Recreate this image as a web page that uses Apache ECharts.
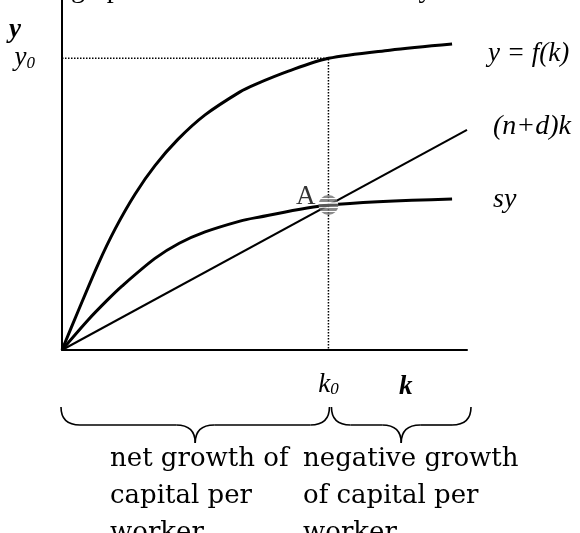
<!DOCTYPE html>
<html>
<head>
<meta charset="utf-8">
<script src="https://cdn.jsdelivr.net/npm/echarts@6/dist/echarts.min.js"></script>
<style>
  html, body { margin: 0; padding: 0; background: #fff; }
  #main { width: 580px; height: 533px; }
</style>
</head>
<body>
<div id="main"></div>
<script>
// output per worker, y = f(k)
var outK = [0, 0.6, 1.35, 2.0, 2.74, 3.49, 4.35, 5.37, 6.68, 7.24, 8.5, 10, 12.3, 14.64];
var outY = [0, 1.32, 2.93, 4.16, 5.34, 6.32, 7.22, 8.06, 8.85, 9.1, 9.56, 10, 10.28, 10.49];
// saving per worker, sy
var saveK = [0, 0.98, 1.69, 2.25, 3.49, 4.4, 5.37, 6.68, 7.24, 10, 14.64];
var saveY = [0, 1.03, 1.7, 2.19, 3.14, 3.66, 4.05, 4.42, 4.53, 4.97, 5.18];
// break-even investment, (n+d)k
var lineK = [0, 15.2];
var lineY = [0, 7.55];
// steady state
var k0 = 10;
var y0 = 10;
var sy0 = 4.97;
var kMax = 15.2;
var yMax = 12;

var serif = '"Liberation Serif", "Times New Roman", serif';
var book = '"DejaVu Serif", "Palatino Linotype", serif';

function zip(a, b) {
  return a.map(function (v, i) { return [v, b[i]]; });
}

// stripes for the point A
var stops = [];
var pos = 0;
for (var i = 0; i < 5; i++) {
  stops.push({ offset: pos, color: '#6e6e6e' });
  pos += 0.15;
  stops.push({ offset: pos, color: '#6e6e6e' });
  if (i < 4) {
    stops.push({ offset: pos, color: '#ffffff' });
    pos += 0.0625;
    stops.push({ offset: pos, color: '#ffffff' });
  }
}

var myChart = echarts.init(document.getElementById('main'));

myChart.setOption({
  animation: false,
  grid: { left: 62, right: 113, top: 0, bottom: 183 },
  xAxis: {
    type: 'value', min: 0, max: kMax,
    splitLine: { show: false },
    axisTick: { show: false },
    axisLine: { lineStyle: { color: '#000', width: 2 } },
    axisLabel: {
      customValues: [k0],
      margin: 21,
      formatter: function () { return '{a|k}{b|0}'; },
      rich: {
        a: { fontFamily: serif, fontStyle: 'italic', fontSize: 27, color: '#000', verticalAlign: 'bottom' },
        b: { fontFamily: serif, fontStyle: 'italic', fontSize: 17, color: '#000', verticalAlign: 'bottom' }
      }
    }
  },
  yAxis: {
    type: 'value', min: 0, max: yMax,
    splitLine: { show: false },
    axisTick: { show: false },
    axisLine: { lineStyle: { color: '#000', width: 2 } },
    axisLabel: {
      customValues: [y0],
      margin: 27,
      formatter: function () { return '{a|y}{b|0}'; },
      rich: {
        a: { fontFamily: serif, fontStyle: 'italic', fontSize: 27, color: '#000', verticalAlign: 'bottom' },
        b: { fontFamily: serif, fontStyle: 'italic', fontSize: 17, color: '#000', verticalAlign: 'bottom' }
      }
    }
  },
  series: [
    {
      name: 'f', type: 'line', data: zip(outK, outY),
      smooth: 0.3, showSymbol: false, silent: true,
      lineStyle: { color: '#000', width: 3 },
      endLabel: {
        show: true, formatter: 'y = f(k)', distance: 0, offset: [36, 10],
        fontFamily: serif, fontStyle: 'italic', fontSize: 27, color: '#000'
      },
      z: 3
    },
    {
      name: 'sy', type: 'line', data: zip(saveK, saveY),
      smooth: 0.3, showSymbol: false, silent: true,
      lineStyle: { color: '#000', width: 3 },
      endLabel: {
        show: true, formatter: 'sy', distance: 0, offset: [41, 1],
        fontFamily: serif, fontStyle: 'italic', fontSize: 28, color: '#000'
      },
      z: 3
    },
    {
      name: 'breakeven', type: 'line', data: zip(lineK, lineY),
      showSymbol: false, silent: true,
      lineStyle: { color: '#000', width: 2 },
      endLabel: {
        show: true, formatter: '(n+d)k', distance: 0, offset: [26, -3],
        fontFamily: serif, fontStyle: 'italic', fontSize: 28, color: '#000'
      },
      z: 3
    },
    {
      name: 'guides', type: 'line', data: [[0, y0], [k0, y0], [k0, 0]],
      showSymbol: false, silent: true,
      lineStyle: { color: '#000', width: 1.5, type: [1.5, 1.5] },
      z: 2
    },
    {
      name: 'A', type: 'scatter', data: [[k0, sy0]],
      symbol: 'circle', symbolSize: 20, silent: true,
      itemStyle: { color: new echarts.graphic.LinearGradient(0, 0, 0, 1, stops) },
      label: {
        show: true, position: 'left', distance: 3, offset: [0, -8], formatter: 'A',
        fontFamily: serif, fontSize: 27, color: '#000'
      },
      z: 5
    }
  ]
});

// braces and notes below the axis, placed from the axis scale
var px0 = myChart.convertToPixel({ xAxisIndex: 0 }, 0);
var pxK = myChart.convertToPixel({ xAxisIndex: 0 }, k0);
var pxEnd = myChart.convertToPixel({ xAxisIndex: 0 }, kMax);

function brace(x1, x2) {
  var top = 407, mid = 425, tip = 443, r = 19;
  var cx = (x1 + x2) / 2;
  var st = { fill: null, stroke: '#000', lineWidth: 1.6 };
  return [
    { type: 'bezierCurve', shape: { x1: x1, y1: top, cpx1: x1, cpy1: mid, x2: x1 + r, y2: mid }, style: st },
    { type: 'line', shape: { x1: x1 + r, y1: mid, x2: cx - r, y2: mid }, style: st },
    { type: 'bezierCurve', shape: { x1: cx - r, y1: mid, cpx1: cx, cpy1: mid, x2: cx, y2: tip }, style: st },
    { type: 'bezierCurve', shape: { x1: cx, y1: tip, cpx1: cx, cpy1: mid, x2: cx + r, y2: mid }, style: st },
    { type: 'line', shape: { x1: cx + r, y1: mid, x2: x2 - r, y2: mid }, style: st },
    { type: 'bezierCurve', shape: { x1: x2 - r, y1: mid, cpx1: x2, cpy1: mid, x2: x2, y2: top }, style: st }
  ];
}

var notes = [
  {
    type: 'text', x: 71, y: -10,
    style: { text: 'graph of the model in terms of y', font: '28px ' + serif, fill: '#000', verticalAlign: 'middle' }
  },
  {
    type: 'text', x: 9, y: 30,
    style: { text: 'y', font: 'italic bold 27px ' + serif, fill: '#000', verticalAlign: 'middle' }
  },
  {
    type: 'text', x: 399, y: 387,
    style: { text: 'k', font: 'italic bold 27px ' + serif, fill: '#000', verticalAlign: 'middle' }
  },
  {
    type: 'text', x: 110, y: 440.5,
    style: { text: 'net growth of\ncapital per\nworker', font: '26px ' + book, lineHeight: 37, fill: '#000', verticalAlign: 'top' }
  },
  {
    type: 'text', x: 303, y: 440.5,
    style: { text: 'negative growth\nof capital per\nworker', font: '26px ' + book, lineHeight: 37, fill: '#000', verticalAlign: 'top' }
  }
];

myChart.setOption({
  graphic: notes.concat(brace(px0 - 1, pxK + 1), brace(pxK + 3, pxEnd + 4))
});
</script>
</body>
</html>
